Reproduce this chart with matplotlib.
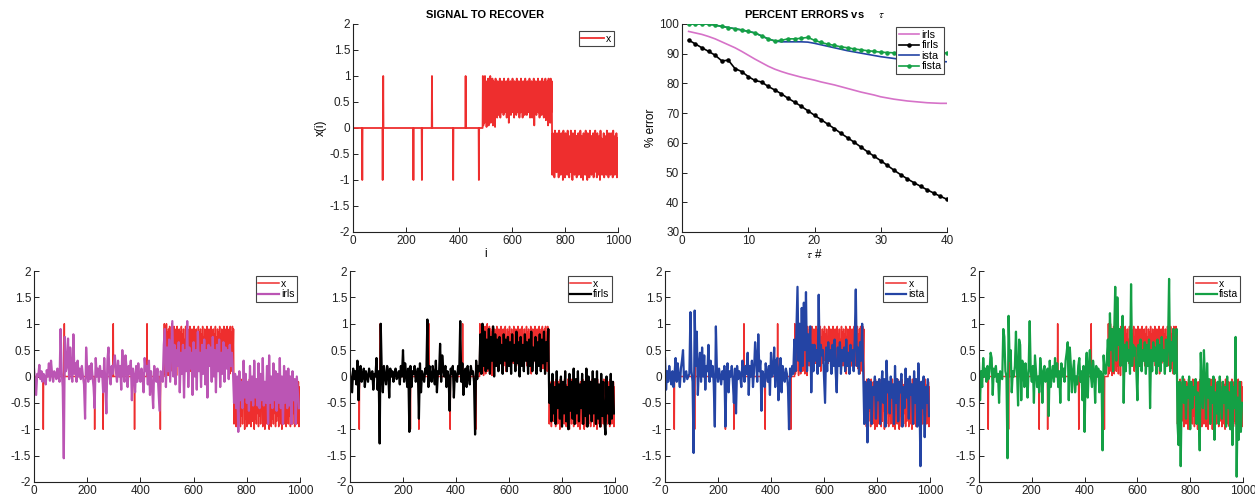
import numpy as np
import matplotlib
matplotlib.use("Agg")
import matplotlib.pyplot as plt
from matplotlib.ticker import FuncFormatter

plt.rcParams['font.family'] = ['Liberation Sans', 'DejaVu Sans']
plt.rcParams['axes.unicode_minus'] = False
plt.rcParams['mathtext.fontset'] = 'stix'

# ---------------- data ----------------
# original signal x(i): sparse spikes for i < 490, then two dense segments (sampled every 2)
x_sparse_len = 490
x_spike_idx = [35, 112, 114, 228, 260, 298, 378, 425, 475]
x_spike_val = [-1, -1, 1, -1, -1, 1, -1, 1, -1]
x_seg1_start = 490
x_seg1 = [
    1.0, 0.05, 0.95, 0.1, 1.0, 0.3, 0.85, 0.02, 0.9, 0.15,
    0.95, 0.05, 0.8, 0.4, 1.0, 0.1, 0.7, 0.2, 0.95, 0.05,
    0.9, 0.35, 0.85, 0.02, 0.95, 0.3, 0.75, 0.2, 0.9, 0.25,
    0.85, 0.45, 0.95, 0.2, 0.8, 0.3, 0.9, 0.35, 0.7, 0.25,
    0.95, 0.3, 0.85, 0.4, 0.9, 0.2, 0.8, 0.35, 0.95, 0.1,
    0.75, 0.3, 0.9, 0.25, 0.85, 0.4, 0.95, 0.3, 0.8, 0.2,
    0.9, 0.35, 0.7, 0.25, 0.95, 0.3, 0.85, 0.4, 0.9, 0.2,
    0.8, 0.3, 0.95, 0.35, 0.75, 0.2, 0.9, 0.3, 0.85, 0.25,
    0.95, 0.4, 0.8, 0.25, 0.9, 0.3, 0.7, 0.35, 0.95, 0.2,
    0.85, 0.3, 0.9, 0.2, 0.8, 0.35, 0.95, 0.05, 0.75, 0.3,
    0.9, 0.25, 0.85, 0.4, 0.95, 0.3, 0.8, 0.2, 0.9, 0.35,
    0.75, 0.25, 0.95, 0.3, 0.85, 0.2, 0.9, 0.35, 0.95, 0.15,
    0.8, 0.3, 0.9, 0.05, 0.95, 0.2, 0.85, 0.1, 0.95, 0.3,
    0.9,
]
x_seg2_start = 752
x_seg2 = [
    -0.9, -0.1, -0.6, -0.2, -0.95, -0.05, -0.7, -0.3, -0.85, -0.1,
    -0.65, -0.2, -0.95, -0.05, -0.75, -0.25, -0.9, -0.1, -0.6, -0.15,
    -1.0, -0.05, -0.8, -0.3, -0.95, -0.1, -0.7, -0.2, -0.9, -0.05,
    -0.75, -0.15, -0.95, -0.25, -0.85, -0.05, -0.65, -0.2, -1.0, -0.1,
    -0.8, -0.3, -0.9, -0.05, -0.7, -0.15, -0.95, -0.2, -0.75, -0.1,
    -0.9, -0.25, -0.65, -0.05, -0.95, -0.15, -0.8, -0.3, -1.0, -0.1,
    -0.7, -0.2, -0.9, -0.05, -0.85, -0.25, -1.0, -0.1, -0.75, -0.2,
    -0.95, -0.05, -0.8, -0.3, -0.9, -0.15, -0.7, -0.1, -0.95, -0.25,
    -0.85, -0.05, -0.75, -0.2, -0.95, -0.1, -0.65, -0.3, -0.9, -0.15,
    -1.0, -0.05, -0.8, -0.2, -0.9, -0.25, -0.7, -0.1, -0.95, -0.15,
    -0.8, -0.3, -0.9, -0.05, -0.75, -0.2, -0.95, -0.1, -0.85, -0.25,
    -0.9, -0.1, -0.7, -0.2, -0.95, -0.05, -0.8, -0.3, -0.9, -0.15,
    -0.75, -0.1, -0.95, -0.2, -0.75,
]
dense_step = 2

# reconstructions, sampled every 4 samples (i = 0, 4, ..., 996)
rec_step = 4
irls = [
    0.15, -0.1, -0.35, 0.05, 0.0, 0.22, -0.05, 0.1, -0.1, 0.05,
    0.0, -0.15, 0.12, 0.0, 0.25, -0.08, 0.3, 0.05, -0.1, 0.1,
    0.05, -0.05, 0.15, 0.0, -0.1, 0.9, 0.1, -0.2, -1.55, 0.75,
    0.1, 0.2, 0.72, -0.05, 0.55, 0.1, -0.1, 0.8, 0.05, 0.25,
    -0.1, 0.3, 0.0, 0.15, -0.05, 0.2, 0.0, -0.15, -0.8, 0.55,
    0.1, -0.1, 0.2, -0.05, 0.25, 0.0, -0.2, -0.6, 0.35, 0.0,
    0.15, -0.1, 0.2, 0.0, 0.1, -0.3, 0.35, -0.1, -0.7, 0.3,
    0.55, 0.0, -0.15, 0.2, 0.05, 0.25, 0.4, 0.1, -0.1, 0.3,
    0.0, 0.2, -0.25, 0.5, 0.1, -0.1, 0.4, 0.15, -0.2, 0.2,
    0.05, 0.3, -0.45, 0.15, 0.0, -0.3, 0.2, -0.1, 0.25, 0.0,
    -0.1, 0.15, 0.0, -0.3, 0.35, 0.1, 0.2, -0.15, 0.3, -0.35,
    0.1, -0.2, -0.6, 0.2, 0.0, -0.1, 0.15, -0.25, -0.65, 0.1,
    0.05, -0.1, 0.6, 0.9, -0.2, 0.55, 0.1, 0.7, -0.1, 0.5,
    1.05, 0.0, 0.6, -0.15, 0.5, 0.2, 0.65, -0.3, 0.45, 0.05,
    0.6, -0.4, 0.5, 0.1, 1.05, -0.2, 0.55, 0.15, 0.45, -0.35,
    0.65, 0.0, 0.5, -0.25, 0.85, 0.1, 0.45, -0.2, 0.6, 0.05,
    0.7, -0.15, 0.5, -0.4, 0.6, 0.2, 0.55, -0.1, 0.75, 0.0,
    0.5, -0.3, 0.6, 0.1, 0.7, -0.2, 0.45, 0.05, 0.65, -0.1,
    0.55, 0.15, 0.5, -0.05, 0.6, 0.2, 0.45, 0.1, -0.5, 0.05,
    -0.6, 0.0, -1.05, 0.1, -0.45, -0.1, -0.6, 0.3, -0.4, 0.05,
    -0.5, -0.1, -0.65, 0.2, -0.45, 0.0, -0.55, 0.3, -0.4, -0.05,
    -0.55, 0.25, -0.6, 0.05, -0.45, 0.35, -0.55, -0.1, -0.5, 0.2,
    -0.9, 0.4, -0.5, 0.0, -0.6, 0.25, -0.45, 0.1, -0.65, 0.05,
    -0.5, 0.35, -0.6, 0.0, -0.9, 0.2, -0.5, 0.1, -0.6, 0.15,
    -0.55, 0.0, -0.9, 0.1, -0.45, -0.05, -0.9, 0.0, -0.3, -0.6,
]
firls = [
    0.1, -0.1, -0.3, 0.15, -0.05, 0.1, -0.15, 0.3, -0.45, 0.05,
    0.2, -0.1, 0.0, 0.15, -0.2, 0.1, 0.0, -0.1, 0.15, 0.05,
    -0.05, 0.1, -0.25, 0.05, 0.0, 0.35, -0.25, 0.1, -1.27, 1.0,
    0.05, -0.3, 0.2, 0.0, -0.15, 0.2, 0.1, -0.4, 0.15, 0.0,
    0.1, -0.1, 0.05, 0.15, -0.05, 0.0, 0.1, -0.15, 0.2, 0.0,
    0.5, -0.1, 0.25, 0.05, -0.2, 0.15, -1.05, 0.2, -0.2, 0.1,
    0.05, 0.2, -0.1, 0.0, 0.15, -0.8, 0.25, -0.3, 0.1, 0.0,
    -0.1, 0.15, 0.05, 1.08, -0.2, 0.2, 0.0, -0.1, 0.2, 0.05,
    -0.15, 0.3, -0.3, 0.1, 0.05, 0.62, -0.1, 0.4, 0.15, 0.0,
    0.2, -0.2, 0.1, 0.0, -0.65, 0.15, 0.05, 0.2, -0.4, 0.1,
    0.0, -0.1, 0.2, 0.05, 1.05, -0.1, 0.25, -0.35, 0.1, 0.15,
    -0.2, 0.2, 0.0, -0.15, 0.2, 0.05, 0.1, -0.1, -1.1, 0.3,
    -0.05, 0.2, 0.1, 0.8, 0.05, 1.0, 0.2, 0.85, 0.1, 0.7,
    0.15, 0.9, 0.05, 0.75, 0.3, 0.95, 0.0, 0.8, 0.2, 0.7,
    0.1, 0.75, 0.25, 0.6, 0.05, 0.8, 0.3, 0.7, 0.1, 0.75,
    0.2, 0.65, 0.05, 0.8, 0.3, 0.6, 0.1, 0.85, 0.25, 0.65,
    0.0, 0.75, 0.2, 0.6, 0.1, 0.8, 0.3, 0.65, 0.05, 0.7,
    0.2, 0.85, 0.1, 0.55, 0.3, 0.75, 0.05, 0.65, 0.2, 0.8,
    0.1, 0.7, 0.25, 0.85, 0.05, 0.65, 0.3, 0.9, -0.5, -0.15,
    -0.85, 0.05, -0.7, -0.2, -0.9, 0.1, -0.6, -0.15, -0.8, 0.0,
    -0.95, -0.1, -0.7, 0.1, -0.85, -0.2, -1.0, 0.05, -0.65, -0.1,
    -0.8, 0.15, -0.9, -0.05, -0.7, 0.1, -0.85, -0.15, -0.6, 0.05,
    -0.9, -0.1, -0.75, 0.15, -0.95, 0.0, -0.7, -0.1, -0.85, 0.1,
    -0.7, -0.05, -0.9, 0.1, -0.8, -0.15, -0.95, 0.05, -0.75, -0.1,
    -0.85, -1.1, 0.0, -0.7, -0.2, -0.9, 0.05, -0.8, -0.1, -0.7,
]
ista = [
    0.35, -0.25, 0.1, -0.1, 0.2, 0.0, -0.15, 0.1, -0.2, 0.05,
    0.35, -0.1, 0.25, 0.0, -0.2, 0.15, 0.3, 0.5, -0.1, 0.05,
    0.1, -0.05, 0.0, 0.05, 1.22, 0.1, -0.1, -1.45, 1.25, 0.2,
    0.85, -0.35, 0.2, 0.45, -0.1, 0.55, 0.0, 0.4, -0.25, 0.2,
    0.1, 0.6, -0.1, 0.3, 0.0, 0.2, -0.15, -0.95, 0.95, 0.1,
    -0.1, 0.15, 0.0, -0.15, 0.1, -0.05, 0.2, -0.95, 0.05, 0.25,
    -0.3, 0.1, 0.0, 0.2, -0.1, -0.5, 0.15, -0.7, 0.2, -0.05,
    0.1, 0.0, -0.2, 0.3, 0.15, -0.1, 0.2, 0.05, 0.45, -0.35,
    0.2, 0.0, 0.3, -0.2, 0.1, 0.65, 0.35, -0.1, 0.8, 0.1,
    0.3, -0.65, 0.1, 0.0, -0.2, 0.25, 0.05, -0.1, 0.2, -0.35,
    0.45, 0.0, 0.1, 0.55, -0.2, 0.3, 0.35, -0.45, 0.1, 0.35,
    -0.3, 0.2, 0.0, -0.1, 0.15, 0.05, -0.2, -1.0, 0.15, 0.0,
    0.2, 0.05, 0.7, 0.1, 0.9, 1.7, 0.3, 1.0, 0.1, 1.3,
    0.2, 1.4, 0.5, 1.6, 0.1, 0.8, 0.3, 0.95, -0.3, 0.6,
    0.1, 0.6, 0.3, 0.5, 0.05, 1.55, 0.2, 0.6, 0.4, 0.5,
    0.0, -0.5, 0.55, 0.1, 0.65, 0.3, 0.5, 0.05, 0.6, 0.2,
    0.7, 0.1, -0.3, 0.55, 0.2, 0.65, 0.05, 0.5, 0.3, 0.55,
    0.1, 0.7, 0.2, 0.45, 0.05, 0.6, 0.3, 0.5, 0.1, 0.7,
    1.65, 0.2, 0.55, 0.05, 0.65, 0.3, 1.0, 0.1, -0.9, -0.1,
    -0.45, -1.25, -0.05, -0.6, -0.1, -0.9, -0.2, -0.35, 0.0, -0.8,
    -0.1, -0.45, -0.05, -0.9, -0.2, 0.1, -0.5, -0.05, -0.95, 0.3,
    -0.3, -0.1, -0.7, 0.0, -0.4, -0.15, -0.9, 0.2, -0.5, -0.05,
    -0.85, -0.1, -0.3, 0.05, -0.95, -0.2, -0.6, 0.15, -0.4, -0.05,
    -0.8, 0.0, -0.35, -0.15, -0.9, 0.1, -0.5, -0.05, -0.95, 0.25,
    -0.3, -1.7, -0.1, -0.6, 0.0, -1.15, -0.2, -0.5, -0.05, -0.75,
]
fista = [
    0.25, -0.45, 0.1, -0.2, 0.35, 0.0, 0.15, -0.1, 0.2, -0.05,
    0.1, 0.45, 0.35, -0.35, 0.15, 0.0, 0.2, -0.1, 0.05, -0.5,
    0.1, 0.0, -0.05, 0.9, 0.75, 0.1, 0.0, -1.55, 1.15, 0.3,
    0.5, -0.3, 0.1, 0.0, 0.2, 0.85, 0.1, -0.55, 0.7, 0.6,
    -0.45, 0.3, 0.1, -0.2, 0.25, 0.0, -0.4, 0.15, 1.05, 0.1,
    -0.1, 0.2, -0.5, 0.4, 0.1, -0.2, 0.0, -0.3, 0.35, 0.1,
    -0.5, 0.1, 0.2, -0.1, 0.0, 0.15, -0.75, 0.3, -0.2, 0.05,
    0.2, -0.1, 0.35, 0.0, 0.25, -0.2, 0.1, -0.5, 0.25, 0.0,
    0.15, -0.1, 0.3, 0.45, 0.65, -0.45, 0.55, 0.2, -0.3, 0.1,
    0.3, -0.3, 0.0, -0.15, 0.2, 0.35, -0.1, 0.1, -0.45, 0.2,
    -1.05, 0.1, 0.45, -0.4, 0.2, 0.5, 0.0, -0.2, 0.3, 0.1,
    -0.5, 0.2, 0.0, 0.15, -0.3, 0.1, 0.05, -1.4, 0.4, 0.1,
    0.05, 0.3, 0.7, 0.2, 1.2, 0.5, 0.9, 0.1, 0.8, 1.7,
    0.3, 1.5, 0.6, 0.9, 0.2, 0.75, 1.15, -0.5, 0.6, 0.1,
    0.65, 0.3, 0.5, 0.05, 1.75, 0.2, 0.6, 0.4, 0.55, 0.1,
    -0.45, 0.6, 0.2, 0.7, 0.1, 0.5, 0.3, 0.65, 0.05, 0.6,
    0.2, 0.7, -0.6, 0.5, 0.1, 0.65, 0.3, 0.55, 0.05, 0.7,
    0.2, 0.6, 0.1, 0.75, 0.3, 0.5, 0.05, 0.7, 0.2, 0.6,
    1.85, 0.1, 0.65, 0.3, 0.9, 0.05, 0.6, 0.9, -0.9, -1.3,
    -0.1, -1.7, -0.3, 0.0, -0.5, -0.1, -0.8, -0.2, -0.4, 0.0,
    -1.0, -0.1, -0.6, -0.2, -0.35, -0.05, -0.9, -0.3, -0.5, -1.4,
    0.45, -0.2, -0.6, 0.5, -0.1, -0.8, 0.25, -0.4, -0.05, -0.9,
    -0.2, -0.5, 0.0, -1.2, -0.3, -0.7, -0.1, -0.9, 0.0, -0.45,
    -0.8, -0.1, -0.5, -0.2, -0.95, 0.0, -0.6, -0.3, -1.0, -0.1,
    -1.3, -0.2, -0.6, 0.75, -1.9, -0.4, -1.2, -0.1, -1.05, -0.5,
]

# percent errors vs tau
tau = list(range(1, 41))
err_irls = [97.5, 97.0, 96.5, 95.8, 95.0, 94.0, 93.0, 92.0, 90.8, 89.5,
            88.2, 87.0, 85.8, 84.8, 84.0, 83.3, 82.7, 82.1, 81.6, 81.1,
            80.5, 80.0, 79.5, 78.9, 78.3, 77.7, 77.1, 76.6, 76.1, 75.5,
            75.1, 74.7, 74.4, 74.1, 73.9, 73.7, 73.5, 73.4, 73.3, 73.3]
err_firls = [94.6, 93.3, 92.0, 90.8, 89.5, 87.6, 87.8, 85.0, 84.0, 82.3,
             81.0, 80.5, 79.0, 77.8, 76.5, 75.0, 73.7, 72.3, 70.8, 69.3,
             67.8, 66.3, 64.8, 63.2, 61.7, 60.2, 58.6, 57.0, 55.5, 54.0,
             52.4, 50.8, 49.3, 47.9, 46.6, 45.4, 44.2, 43.1, 42.0, 41.0]
err_ista = [100.0, 100.0, 100.0, 100.0, 99.6, 99.2, 98.8, 98.4, 98.0, 97.5,
            97.0, 96.0, 95.0, 94.3, 94.0, 94.0, 94.0, 94.0, 93.9, 93.5,
            93.0, 92.5, 92.0, 91.5, 91.0, 90.6, 90.2, 89.8, 89.4, 89.0,
            88.7, 88.4, 88.1, 87.9, 87.7, 87.6, 87.5, 87.4, 87.3, 87.3]
err_fista = [100.0, 100.0, 100.0, 100.0, 99.6, 99.2, 98.8, 98.4, 98.0, 97.5,
             97.0, 96.0, 95.0, 94.3, 94.5, 95.0, 95.0, 95.2, 95.5, 94.5,
             93.8, 93.2, 92.8, 92.3, 92.0, 91.6, 91.3, 91.0, 90.8, 90.5,
             90.4, 90.3, 90.2, 90.2, 90.2, 90.2, 90.2, 90.2, 90.1, 90.3]

C_X = '#ee2e2e'
C_IRLS = '#bb55b4'
C_IRLS_LIGHT = '#d672c8'
C_FIRLS = '#000000'
C_ISTA = '#2444a4'
C_FISTA = '#14a045'

# ---------------- build x ----------------
x_sparse = np.zeros(x_sparse_len)
x_sparse[x_spike_idx] = x_spike_val
i_x = np.concatenate([np.arange(x_sparse_len),
                      x_seg1_start + dense_step * np.arange(len(x_seg1)),
                      x_seg2_start + dense_step * np.arange(len(x_seg2))])
x_full = np.concatenate([x_sparse, np.array(x_seg1), np.array(x_seg2)])


def fmt(v, pos):
    return '%g' % v


def style(ax):
    for s in ['top', 'right']:
        ax.spines[s].set_visible(False)
    for s in ['left', 'bottom']:
        ax.spines[s].set_linewidth(0.8)
        ax.spines[s].set_color('#222222')
    ax.tick_params(direction='in', length=3.5, width=0.7, labelsize=8.5,
                   colors='#222222', pad=2)
    ax.yaxis.set_major_formatter(FuncFormatter(fmt))
    ax.xaxis.set_major_formatter(FuncFormatter(fmt))


def leg(ax, anchor, hl=2.0, fs=7.5):
    L = ax.legend(loc='upper right', bbox_to_anchor=anchor, borderaxespad=0,
                  fontsize=fs, frameon=True, fancybox=False, framealpha=1,
                  edgecolor='#444444', handlelength=hl, handletextpad=0.2,
                  borderpad=0.25, labelspacing=0.05)
    L.get_frame().set_linewidth(0.8)
    return L


fig = plt.figure(figsize=(12.55, 4.99), dpi=100)
W, H = 1255.0, 499.0


def axes_px(l, r, t, b):
    return fig.add_axes([l / W, 1 - b / H, (r - l) / W, (b - t) / H])


# ---- top-left: signal ----
ax1 = axes_px(353, 618, 24, 232)
ax1.plot(i_x, x_full, color=C_X, lw=1.3, label='x')
ax1.set_xlim(0, 1000)
ax1.set_ylim(-2, 2)
ax1.set_xticks(np.arange(0, 1001, 200))
ax1.set_yticks(np.arange(-2, 2.01, 0.5))
style(ax1)
ax1.set_title('SIGNAL TO RECOVER', fontsize=8, fontweight='bold', pad=4)
ax1.set_xlabel('i', fontsize=8.5, labelpad=1)
ax1.set_ylabel('x(i)', fontsize=8.5, labelpad=2)
leg(ax1, (0.985, 0.965), hl=2.2)

# ---- top-right: errors ----
ax2 = axes_px(682, 947, 24, 232)
ax2.plot(tau, err_irls, color=C_IRLS_LIGHT, lw=1.2, label='irls')
ax2.plot(tau, err_firls, color=C_FIRLS, lw=1.2, marker='.', ms=4.5, label='firls')
ax2.plot(tau, err_ista, color=C_ISTA, lw=1.2, label='ista')
ax2.plot(tau, err_fista, color=C_FISTA, lw=1.2, marker='.', ms=4.5, label='fista')
ax2.set_xlim(0, 40)
ax2.set_ylim(30, 100)
ax2.set_xticks(np.arange(0, 41, 10))
ax2.set_yticks(np.arange(30, 101, 10))
style(ax2)
ax2.set_title(r'PERCENT ERRORS vs     $\tau$', fontsize=8, fontweight='bold', pad=4)
ax2.set_xlabel(r'$\tau$ #', fontsize=8.5, labelpad=1)
ax2.set_ylabel('% error', fontsize=8.5, labelpad=2)
leg(ax2, (0.99, 0.985), hl=1.9, fs=7.8)

# ---- bottom row: reconstructions ----
recs = [('irls', irls, C_IRLS), ('firls', firls, C_FIRLS),
        ('ista', ista, C_ISTA), ('fista', fista, C_FISTA)]
spans = [(34, 300), (350, 615), (665, 930), (979, 1243)]
for (name, vals, col), (l, r) in zip(recs, spans):
    ax = axes_px(l, r, 271, 482)
    ax.plot(i_x, x_full, color=C_X, lw=1.1, label='x')
    ax.plot(rec_step * np.arange(len(vals)), vals, color=col, lw=1.6, label=name)
    ax.set_xlim(0, 1000)
    ax.set_ylim(-2, 2)
    ax.set_xticks(np.arange(0, 1001, 200))
    ax.set_yticks(np.arange(-2, 2.01, 0.5))
    style(ax)
    leg(ax, (0.99, 0.975))

fig.savefig('out.png', dpi=100, facecolor='white')
